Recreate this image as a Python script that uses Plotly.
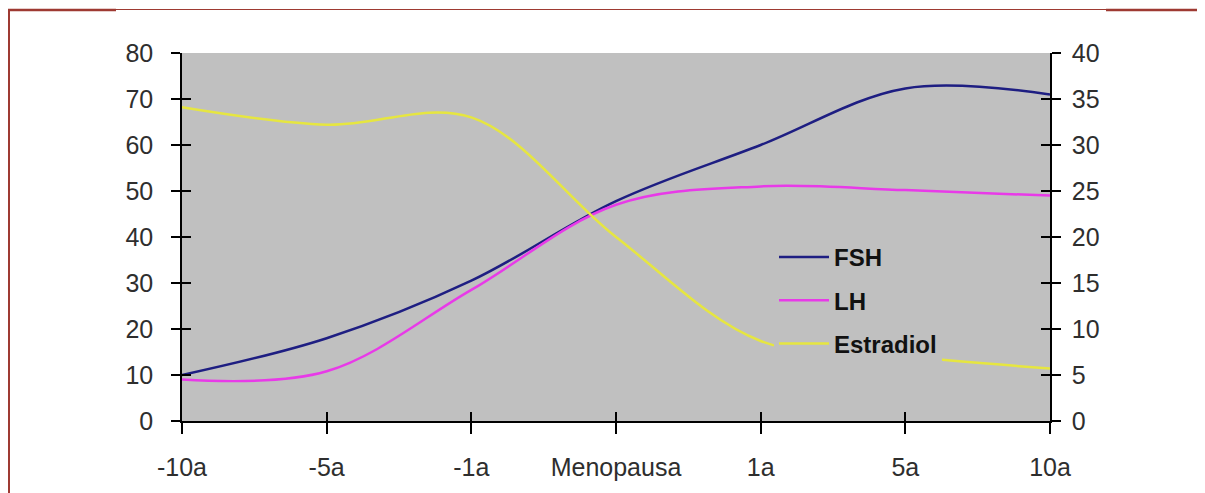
import plotly.graph_objects as go

categories = ["-10a", "-5a", "-1a", "Menopausa", "1a", "5a", "10a"]
fsh = [10, 18, 30.5, 47.8, 60, 72.3, 71]
lh = [9, 10.8, 28.5, 47, 51, 50.2, 49]
estradiol = [34.1, 32.2, 33.0, 20.0, 8.7, 7.0, 5.7]

# page body has an 8px margin, so the figure is shifted by (8, 8) on screen
OFF = 8
W, H = 1205 - OFF, 493 - OFF
# plot area in screen pixels
L, R, T, B = 182, 1050, 53, 421

def px_x(p):
    return (p - L) / (R - L)

def px_y(p):
    return (B - p) / (B - T)

TICKFONT = dict(family="Liberation Sans, Arial", size=25, color="#2e2e2e")

fig = go.Figure()
fig.add_trace(go.Scatter(x=categories, y=fsh, name="FSH", mode="lines",
                         line=dict(color="#1e1e82", width=2.5, shape="spline", smoothing=1.0),
                         legendgroup="a"))
fig.add_trace(go.Scatter(x=categories, y=lh, name="LH", mode="lines",
                         line=dict(color="#e83ae8", width=2.5, shape="spline", smoothing=1.0),
                         legendgroup="b"))
fig.add_trace(go.Scatter(x=categories, y=estradiol, name="Estradiol", mode="lines", yaxis="y2",
                         line=dict(color="#e6e640", width=2.5, shape="spline", smoothing=1.0),
                         legendgroup="c"))
# empty traces so the tick-overlay axes are drawn
fig.add_trace(go.Scatter(x=[None], y=[None], xaxis="x2", yaxis="y3", showlegend=False, hoverinfo="skip"))
fig.add_trace(go.Scatter(x=[None], y=[None], xaxis="x2", yaxis="y4", showlegend=False, hoverinfo="skip"))

fig.update_layout(
    width=W, height=H,
    margin=dict(l=L - OFF, r=W - (R - OFF), t=T - OFF, b=H - (B - OFF), pad=0),
    paper_bgcolor="white",
    plot_bgcolor="#c0c0c0",
    showlegend=True,
    legend=dict(
        x=px_x(774), y=px_y(235), xanchor="left", yanchor="top",
        bgcolor="#c0c0c0", borderwidth=0,
        font=dict(family="Liberation Sans, Arial", size=24, color="#111111", weight="bold"),
        traceorder="grouped", tracegroupgap=9, itemwidth=50,
        entrywidth=130, entrywidthmode="pixels",
    ),
    xaxis=dict(
        type="category", categoryorder="array", categoryarray=categories,
        range=[0, 6], showgrid=False, zeroline=False,
        showline=True, linecolor="#000000", linewidth=1.5,
        ticks="outside", ticklen=11, tickcolor="#000000", tickwidth=1.5,
        tickfont=TICKFONT, ticklabelstandoff=12,
    ),
    yaxis=dict(
        range=[0, 80], dtick=10, showgrid=False, zeroline=False,
        showline=True, linecolor="#000000", linewidth=1.5,
        ticks="outside", ticklen=9, tickcolor="#000000", tickwidth=1.5,
        tickfont=TICKFONT, ticklabelstandoff=13,
    ),
    yaxis2=dict(
        range=[0, 40], dtick=5, overlaying="y", side="right", showgrid=False, zeroline=False,
        showline=True, linecolor="#000000", linewidth=1.5,
        ticks="outside", ticklen=9, tickcolor="#000000", tickwidth=1.5,
        tickfont=TICKFONT, ticklabelstandoff=6,
    ),
    xaxis2=dict(
        range=[0, 6], tickvals=[0, 1, 2, 3, 4, 5, 6], overlaying="x", anchor="y3",
        showgrid=False, zeroline=False, showline=False, showticklabels=False,
        ticks="inside", ticklen=9, tickcolor="#000000", tickwidth=1.5,
    ),
    yaxis3=dict(
        range=[0, 80], dtick=10, overlaying="y", side="left", anchor="x2",
        showgrid=False, zeroline=False, showline=False, showticklabels=False,
        ticks="inside", ticklen=9, tickcolor="#000000", tickwidth=1.5,
    ),
    yaxis4=dict(
        range=[0, 40], dtick=5, overlaying="y", side="right", anchor="x2",
        showgrid=False, zeroline=False, showline=False, showticklabels=False,
        ticks="inside", ticklen=9, tickcolor="#000000", tickwidth=1.5,
    ),
)

# decorative page border (dark red)
RED = "#9e3a32"
fig.add_shape(type="line", xref="paper", yref="paper", x0=px_x(9), x1=px_x(9), y0=px_y(9), y1=px_y(493),
              line=dict(color=RED, width=2))
fig.add_shape(type="line", xref="paper", yref="paper", x0=px_x(8), x1=px_x(116), y0=px_y(10), y1=px_y(10),
              line=dict(color=RED, width=2.5))
fig.add_shape(type="line", xref="paper", yref="paper", x0=px_x(116), x1=px_x(1106), y0=px_y(9.5), y1=px_y(9.5),
              line=dict(color=RED, width=1))
fig.add_shape(type="line", xref="paper", yref="paper", x0=px_x(1106), x1=px_x(1205), y0=px_y(10), y1=px_y(10),
              line=dict(color=RED, width=2.5))

fig.write_html("out.html")
